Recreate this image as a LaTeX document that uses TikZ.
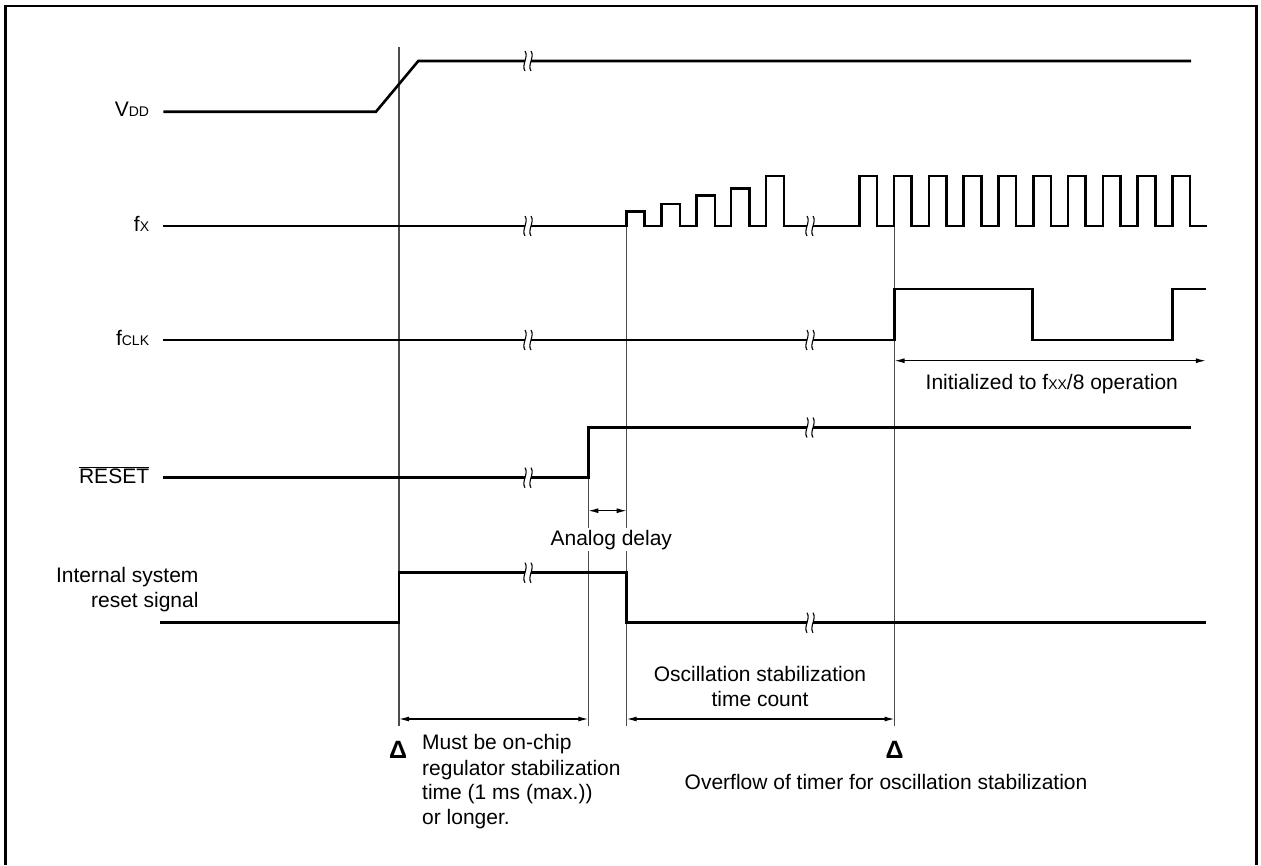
\documentclass[tikz,border=0pt]{standalone}
\usepackage{fontspec}
\setmainfont{Liberation Sans}
\usetikzlibrary{arrows.meta}
\newcommand{\smc}[1]{{\fontsize{14}{14}\selectfont #1}}
\begin{document}
\begin{tikzpicture}[x=1pt,y=-1pt,
  sig/.style={line width=2.6pt, line join=miter},
  guide/.style={line width=1.2pt, black!70},
  dim/.style={line width=1.2pt, {Latex[length=10pt,width=5pt]}-{Latex[length=10pt,width=5pt]}},
  lbl/.style={font=\fontsize{21}{25}\selectfont, inner sep=0pt},
  delta/.style={font=\fontsize{25}{25}\selectfont\bfseries, inner sep=0pt},
  brk/.pic={
    \fill[white] (-3.2,-2.6) rectangle (3.2,2.6);
    \draw[line width=1.1pt] (-3,-10) .. controls (1,-4) and (-7,4) .. (-3,10);
    \draw[line width=1.1pt] (3,-10) .. controls (7,-4) and (-1,4) .. (3,10);
  }]
\useasboundingbox (0,0) rectangle (1261,865);
% frame
\draw[line width=2.7pt] (5.7,865) -- (5.7,6) -- (1256.7,6) -- (1256.7,865);

% guide lines
\coordinate (g1t) at (399,47);   \coordinate (g1b) at (399,726);
\coordinate (g2t) at (588.3,478);\coordinate (g2b) at (588.3,726);
\coordinate (g3t) at (626.7,226);\coordinate (g3b) at (626.7,726);
\coordinate (g4t) at (894.5,226);\coordinate (g4b) at (894.5,726);
\draw[guide] (g1t) -- (g1b);
\draw[guide] (g2t) -- (g2b);
\draw[guide] (g3t) -- (g3b);
\draw[guide] (g4t) -- (g4b);

% signal labels
\node[lbl, anchor=base east] (vdd) at (149.3,116.5) {V\smc{DD}};
\node[lbl, anchor=base east] (fx) at (149.3,231) {f\smc{X}};
\node[lbl, anchor=base east] (fclk) at (149.3,345) {f\smc{CLK}};
\node[lbl, anchor=base east] (rst) at (149.3,483) {$\overline{\mbox{RESET}}$};
\node[lbl, anchor=base east] (isr1) at (198.7,582) {Internal system};
\node[lbl, anchor=base east] (isr2) at (198.7,607) {reset signal};

% VDD
\draw[sig] (163.3,111.7) -- (376,111.7) -- (418.3,61) -- (1191,61);
% fX
\draw[sig] (163.3,226) -- (626.7,226) |- (644.3,211.7) |- (661.7,226) |- (680,204)
  |- (696.7,226) |- (715,195.7) |- (731,226) |- (749.3,188.3) |- (766,226)
  |- (784,176) |- (859.3,226)
  foreach \k in {0,...,9} { |- ({859.3+34.8*\k+17.5},176) |- ({859.3+34.8*(\k+1)},226) };
% fCLK
\draw[sig] (163.3,340) -- (894.5,340) |- (1032.4,289) |- (1172.6,340) |- (1205.8,289);
% RESET
\draw[sig] (163.3,477.7) -- (588.3,477.7) |- (1191,427.5);
% internal system reset
\draw[sig] (160,622.7) -- (399,622.7) |- (626.7,572.7) |- (1206,622.7);

% break marks
\foreach \y in {61,226,340,477.7,572.7} { \pic at (528,\y) {brk}; }
\foreach \y in {226,340,427.5,622.7} { \pic at (810,\y) {brk}; }

% dimension arrows
\coordinate (a1) at (588.3,510.7); \coordinate (a2) at (626.7,510.7);
\draw[dim] (a1) -- (a2);
\coordinate (b1) at (399,719); \coordinate (b2) at (588.3,719);
\draw[dim] (b1) -- (b2);
\coordinate (c1) at (626.7,719); \coordinate (c2) at (894.5,719);
\draw[dim] (c1) -- (c2);
\coordinate (d1) at (894.5,360.7); \coordinate (d2) at (1205.8,360.7);
\draw[dim] (d1) -- (d2);

% texts
\node[lbl, anchor=base, fill=white, inner xsep=1pt, inner ysep=2pt] (analog) at (611.3,545) {Analog delay};
\node[lbl, anchor=base] (init) at (1051.8,389.2) {Initialized to f\smc{XX}/8 operation};
\node[lbl, anchor=base] (osc1) at (760,681.8) {Oscillation stabilization};
\node[lbl, anchor=base] (osc2) at (760,706.8) {time count};
\node[delta, anchor=base] (tri1) at (398,758) {Δ};
\node[delta, anchor=base] (tri2) at (894.6,758) {Δ};
\node[lbl, anchor=base west] (m1) at (422,749.2) {Must be on-chip};
\node[lbl, anchor=base west] (m2) at (422,775.2) {regulator stabilization};
\node[lbl, anchor=base west] (m3) at (422,799.5) {time (1 ms (max.))};
\node[lbl, anchor=base west] (m4) at (422,824.2) {or longer.};
\node[lbl, anchor=base west] (ovf) at (684.5,789.2) {Overflow of timer for oscillation stabilization};
\end{tikzpicture}
\end{document}
